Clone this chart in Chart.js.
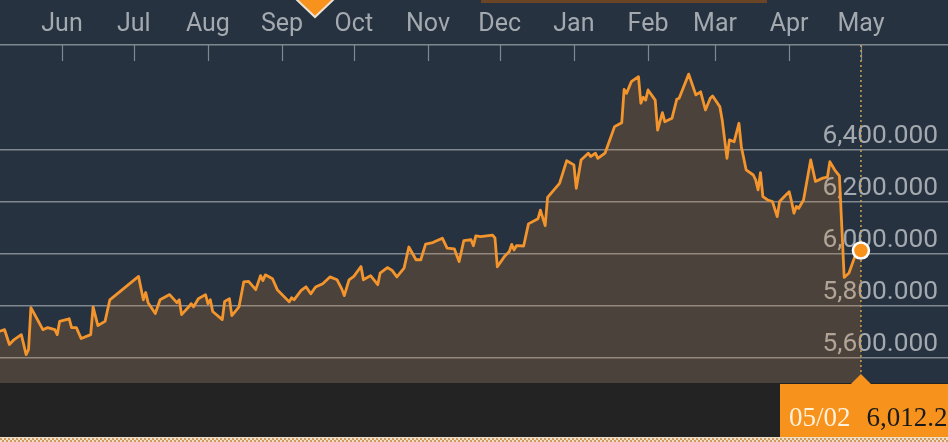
<!DOCTYPE html>
<html><head><meta charset="utf-8">
<script src="https://cdn.jsdelivr.net/npm/chart.js@4/dist/chart.umd.min.js"></script>
<style>html,body{margin:0;padding:0;background:#263240;overflow:hidden}#wrap{width:948px;height:442px;position:relative}</style>
</head><body><div id="wrap"><canvas id="c" width="948" height="442"></canvas></div>
<script>
// Month tick labels and their day offsets (days since Jun 1)
const monthLabels = ['Jun','Jul','Aug','Sep','Oct','Nov','Dec','Jan','Feb','Mar','Apr','May'];
const monthDays = [0,30,61,92,122,153,183,214,245,273,304,334];
const yTickValues = [5600,5800,6000,6200,6400];
const lastDate = '05/02';

const days = [-26,-24,-22,-20,-17,-15,-14,-13,-11,-8,-6,-3,-2,-1,3,4,6,8,12,13,15,18,20,32,34,35,36,39,41,45,48,49,50,53,54,55,57,60,61,62,63,67,68,70,71,74,76,78,81,83,84,85,88,90,95,96,97,100,102,104,106,109,112,115,117,118,120,122,125,126,129,132,133,136,138,140,143,145,148,150,152,155,159,161,164,166,168,171,172,173,175,180,181,182,185,187,188,189,190,193,195,199,200,202,203,208,211,214,215,217,220,221,223,224,227,229,231,234,235,236,238,241,242,243,244,245,248,249,251,252,255,257,258,262,265,267,269,271,272,275,276,278,279,281,283,284,286,289,290,291,292,293,295,297,299,300,302,304,305,306,307,308,310,313,315,318,320,321,323,325,327,329,332,334];
const values = [5702,5708,5651,5670,5689,5612,5631,5793,5759,5708,5716,5708,5689,5740,5750,5716,5716,5674,5689,5796,5724,5740,5823,5913,5823,5851,5812,5770,5823,5843,5812,5823,5766,5796,5808,5796,5827,5843,5808,5823,5778,5747,5817,5827,5762,5796,5892,5894,5862,5916,5897,5919,5904,5862,5815,5831,5823,5859,5873,5846,5872,5885,5911,5900,5864,5839,5900,5913,5951,5900,5916,5881,5926,5947,5936,5911,5945,6026,5977,5977,6037,6043,6060,6022,6019,5970,6051,6054,6031,6069,6066,6072,6061,5950,5990,6009,6036,6015,6031,6030,6115,6135,6168,6108,6217,6271,6358,6342,6252,6361,6387,6374,6387,6367,6387,6438,6489,6504,6632,6617,6662,6681,6579,6602,6591,6630,6591,6476,6543,6508,6521,6594,6598,6691,6611,6623,6553,6598,6607,6566,6515,6367,6438,6431,6502,6412,6323,6303,6284,6246,6312,6220,6207,6201,6143,6201,6220,6239,6201,6156,6182,6175,6207,6361,6278,6291,6295,6354,6323,6300,5909,5926,6003,6012.24];

const points = days.map((d, i) => ({x: d, y: values[i]}));
const lastIdx = values.length - 1;
const fmtY = v => v.toLocaleString('en-US', {minimumFractionDigits: 3, maximumFractionDigits: 3});

const deco = {
  id: 'deco',
  beforeDatasetsDraw(chart) {
    const {ctx, chartArea: a, scales: {x, y}} = chart;
    ctx.save();
    ctx.strokeStyle = '#7f8790'; ctx.lineWidth = 1.2;
    x.ticks.forEach(t => {
      const px = Math.round(x.getPixelForValue(t.value)) + 0.5;
      ctx.beginPath(); ctx.moveTo(px, a.top); ctx.lineTo(px, a.top + 16); ctx.stroke();
    });
    // y labels
    ctx.font = '26.3px Roboto';
    ctx.fillStyle = '#a3a9af';
    ctx.textAlign = 'right'; ctx.textBaseline = 'alphabetic';
    y.ticks.forEach(t => {
      ctx.fillText(fmtY(t.value), 938, y.getPixelForValue(t.value) - 7);
    });
    // dotted cursor line
    const lx = x.getPixelForValue(days[lastIdx]);
    ctx.strokeStyle = '#c9a052'; ctx.setLineDash([2, 3]); ctx.lineWidth = 1.5;
    ctx.beginPath(); ctx.moveTo(lx, a.top); ctx.lineTo(lx, a.bottom); ctx.stroke();
    ctx.restore();
  },
  afterDraw(chart) {
    const {ctx, chartArea: a, scales: {x}} = chart;
    const W = chart.width, H = chart.height;
    const lx = x.getPixelForValue(days[lastIdx]);
    ctx.save();
    ctx.fillStyle = '#232323';
    ctx.fillRect(0, a.bottom, W, H - a.bottom);
    ctx.fillStyle = '#f7931d';
    ctx.fillRect(780, a.bottom + 1, W - 780, 54);
    ctx.beginPath(); ctx.moveTo(lx - 10, a.bottom + 1); ctx.lineTo(lx, a.bottom - 9); ctx.lineTo(lx + 10, a.bottom + 1); ctx.closePath(); ctx.fill();
    // bottom dotted stripe
    ctx.fillStyle = '#eddcc6';
    ctx.fillRect(0, 437, W, 5);
    ctx.fillStyle = '#d09a62';
    for (let px = 0; px < W; px += 4) { ctx.fillRect(px, 438, 2, 2); ctx.fillRect(px + 2, 440, 2, 2); }
    // label text
    ctx.font = '27px "Liberation Serif"';
    ctx.textBaseline = 'alphabetic'; ctx.textAlign = 'left';
    ctx.fillStyle = '#fff1dc';
    ctx.fillText(lastDate, 789, 425.5);
    ctx.fillStyle = '#1a1a1a';
    ctx.fillText(values[lastIdx].toLocaleString('en-US', {minimumFractionDigits: 2, maximumFractionDigits: 2}), 866.5, 425.5);
    // top decorations
    ctx.fillStyle = '#6a4424';
    ctx.fillRect(481, 0, 286, 3);
    ctx.fillStyle = '#f7931d';
    ctx.beginPath(); ctx.moveTo(296, -1); ctx.lineTo(315, 17); ctx.lineTo(334, -1); ctx.closePath(); ctx.fill();
    ctx.strokeStyle = '#ece3d6'; ctx.lineWidth = 2;
    ctx.beginPath(); ctx.moveTo(296, -1); ctx.lineTo(315, 17); ctx.lineTo(334, -1); ctx.stroke();
    ctx.restore();
  }
};

new Chart(document.getElementById('c'), {
  type: 'line',
  plugins: [deco],
  data: {
    datasets: [{
      data: points,
      borderColor: '#f3952c',
      borderWidth: 2.8,
      borderJoinStyle: 'round',
      backgroundColor: 'rgba(242,146,40,0.18)',
      fill: 'start',
      tension: 0,
      pointRadius: c => c.dataIndex === lastIdx ? 8 : 0,
      pointBackgroundColor: '#f7931d',
      pointBorderColor: '#ffffff',
      pointBorderWidth: 2.5
    }]
  },
  options: {
    responsive: false,
    animation: false,
    events: [],
    layout: {autoPadding: false, padding: {top: 0, left: 0, right: 0, bottom: 59}},
    plugins: {legend: {display: false}, tooltip: {enabled: false}},
    scales: {
      x: {
        type: 'linear',
        position: 'top',
        min: -25.92,
        max: 370.4,
        afterBuildTicks: s => { s.ticks = monthDays.map(v => ({value: v})); },
        afterFit: s => { s.height = 45; s.paddingLeft = 0; s.paddingRight = 0; },
        ticks: {
          autoSkip: false, maxRotation: 0, padding: 5,
          color: '#a3a9af', font: {family: 'Roboto', size: 25},
          callback: v => monthLabels[monthDays.indexOf(v)]
        },
        grid: {drawOnChartArea: false, drawTicks: false},
        border: {display: true, color: '#7f8790', width: 1.5}
      },
      y: {
        type: 'linear',
        position: 'right',
        min: 5503,
        max: 6803,
        afterBuildTicks: s => { s.ticks = yTickValues.map(v => ({value: v})); },
        afterFit: s => { s.width = 0; s.paddingTop = 0; s.paddingBottom = 0; },
        ticks: {display: false},
        grid: {color: 'rgba(200,205,210,0.55)', lineWidth: 1.5, drawTicks: false},
        border: {display: false}
      }
    }
  }
});
</script>
</body></html>
